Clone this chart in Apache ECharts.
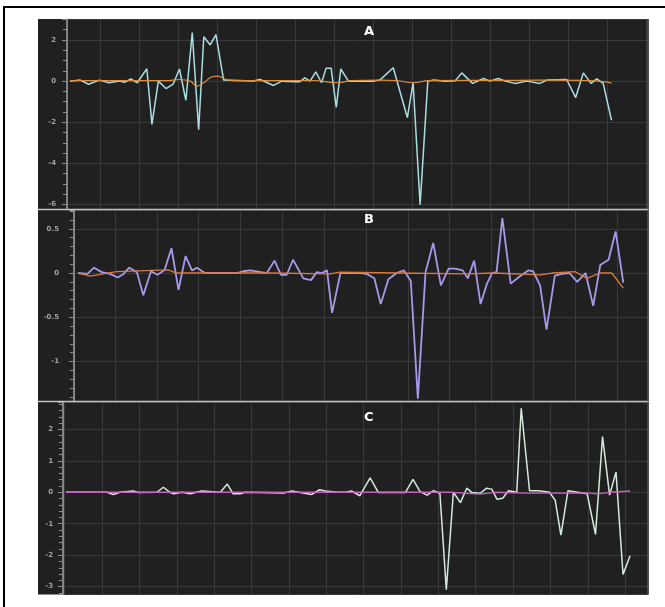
<!DOCTYPE html>
<html>
<head>
<meta charset="utf-8">
<script src="https://cdn.jsdelivr.net/npm/echarts@6/dist/echarts.min.js"></script>
<style>
    html, body { margin: 0; padding: 0; background: #fff; }
    #frame { position: absolute; left: 3px; top: 6px; width: 700px; height: 700px;
             border-top: 2px solid #000; border-left: 2px solid #000; }
    #chart { position: absolute; left: 0; top: 0; width: 665px; height: 607px; }
</style>
</head>
<body>
<div id="frame"></div>
<div id="chart"></div>
<script>
    // panel A: sample position / value
    var aT = [0,1.6,2.9,4.6,6.1,7.7,8.6,9.5,10.5,12.0,12.8,13.8,15.0,16.1,17.1,18.1,19.1,20.1,20.9,21.9,
              22.8,24.0,28.6,29.7,31.8,33.1,35.2,35.9,36.7,37.5,38.4,39.3,40.0,40.8,41.6,42.3,43.5,47.4,48.4,50.5,
              52.7,53.6,54.7,55.9,56.8,58.6,60.2,61.2,62.9,64.6,65.6,66.9,68.0,69.5,71.4,73.4,74.5,77.6,79.0,80.2,
              81.4,82.3,83.3,84.6];
    var aV = [0,0.05,-0.15,0.05,-0.08,0.01,-0.05,0.11,-0.08,0.6,-2.1,0,-0.36,-0.15,0.59,-0.93,2.36,-2.36,2.16,1.76,
              2.26,0.05,0.01,0.08,-0.21,0,-0.03,-0.03,0.16,0,0.45,-0.08,0.62,0.62,-1.28,0.59,0,0,0.05,0.65,
              -1.77,-0.08,-6.01,0,0.05,0,0.02,0.4,-0.11,0.13,0,0.13,0,-0.11,0,-0.11,0.05,0.08,-0.8,0.4,
              -0.11,0.11,-0.11,-1.9];
    var aoT = [0,4.6,10,15,17.1,18.8,19.8,21,22.1,23,24.4,25.5,30,38,41.6,44,48.4,51,53.6,56,62,70,76,80,83.3,84.6];
    var aoV = [0.02,0.03,0.02,0.02,0.08,0,-0.24,-0.05,0.2,0.24,0.08,0.02,0.02,0.03,-0.08,0.02,0.05,0.03,-0.08,0.02,
               0.04,0.04,0.05,0.03,-0.02,-0.1];

    // panel B
    var bT = [0,1.45,2.5,3.7,5.0,6.2,7.1,8.0,9.2,10.2,11.4,12.4,13.5,14.6,15.7,16.8,17.8,18.6,19.8,24.8,
              25.8,26.9,29.5,30.7,31.7,32.6,33.6,35.2,36.4,37.3,38.1,38.9,39.7,41.0,44.1,45.1,46.3,47.3,48.5,49.8,
              50.9,52.0,53.1,54.3,55.5,56.7,57.9,58.9,60.1,60.9,61.9,62.9,63.9,64.7,65.4,66.3,67.6,69.0,70.4,71.1,
              72.2,73.2,74.5,75.6,76.8,78.0,79.3,80.5,81.6,82.9,84.0,85.2];
    var bV = [0,-0.01,0.06,0.01,-0.01,-0.05,-0.01,0.06,0.01,-0.25,0.02,-0.02,0.03,0.28,-0.19,0.19,0.03,0.06,0,0,
              0.02,0.03,0,0.14,-0.02,-0.02,0.15,-0.06,-0.08,0.01,0,0.03,-0.45,0,0,-0.01,-0.06,-0.35,-0.07,0,
              0.03,-0.09,-1.42,0.01,0.34,-0.14,0.05,0.05,0.03,-0.06,0.14,-0.35,-0.12,0,0.01,0.62,-0.12,-0.04,0.03,0.02,
              -0.14,-0.64,-0.03,-0.01,0,-0.1,0,-0.37,0.09,0.15,0.47,-0.11];
    var boT = [0,1.9,6.0,14.1,15.4,30,39.4,40.9,50,60.7,65,72.2,74.2,77.7,79.5,81.6,83.4,85.2];
    var boV = [0,-0.035,0.015,0.035,0,0,-0.01,0.01,0,-0.01,0,-0.02,0,0.015,-0.06,0,0,-0.17];

    // panel C
    var cT = [0,6.4,7.4,8.4,10.5,11.3,14.2,15.2,16.3,16.8,18.1,19.4,21.2,24.1,25.2,26.1,27.2,28.0,34.0,35.3,
              36.6,38.4,39.6,40.5,42.3,43.6,44.6,45.9,47.5,48.8,53.0,54.2,55.3,56.4,57.4,58.4,59.4,60.5,61.6,62.6,
              63.4,64.7,65.7,66.5,67.3,68.2,69.1,70.4,71.1,72.4,73.8,75.5,76.4,77.3,78.4,81.4,82.7,83.8,84.9,85.9,
              87.0,88.1];
    var cV = [0,0,-0.07,0,0.04,-0.01,0,0.16,-0.01,-0.05,0,-0.05,0.04,0,0.26,-0.05,-0.05,0,-0.02,0.04,
              -0.01,-0.07,0.08,0.04,0,0,0.04,-0.11,0.46,-0.01,-0.01,0.41,0.02,-0.09,0.05,-0.03,-3.1,0,-0.33,0.13,
              -0.01,-0.03,0.13,0.1,-0.22,-0.19,0.05,0,2.67,0.05,0.05,0,-0.25,-1.36,0.05,-0.05,-1.34,1.77,-0.09,0.64,
              -2.61,-2.02];
    var cmT = [0,40,60,64.7,67,72,81.4,83,85,88.1];
    var cmV = [0,0,0,-0.06,0,-0.03,-0.02,-0.05,0,0.04];

    var titles = ['A', 'B', 'C'];

    function pairs(t, v) {
        var out = [];
        for (var i = 0; i < t.length; i++) out.push([t[i], v[i]]);
        return out;
    }

    var panels = [
        {grid: {left: 67, right: 17, top: 19, height: 190.5}, xr: [-0.47, 90.3], gr: [0.154, 15.05], gs: 15,
         yr: [-6.24, 3.02], ys: 5, minor: 4, margin: 11, titleTop: 25},
        {grid: {left: 74, right: 17, top: 210, height: 191}, xr: [-0.63, 89.06], gr: [0.02, 13.74], gs: 14,
         yr: [-1.446, 0.712], ys: 5, minor: 5, margin: 15, titleTop: 213},
        {grid: {left: 63, right: 17, top: 402, height: 192.5}, xr: [-0.47, 90.9], gr: [-0.044, 15.61], gs: 15,
         yr: [-3.25, 2.87], ys: 6, minor: 5, margin: 10, titleTop: 411}
    ];

    var gridLine = '#3a3a3a';
    var tickColor = '#8c8c8c';

    var option = {
        animation: false,
        backgroundColor: 'transparent',
        title: [],
        grid: [],
        xAxis: [],
        yAxis: [],
        graphic: {
            elements: [
                {type: 'rect', z: -10, shape: {x: 38, y: 19, width: 610, height: 575.5}, style: {fill: '#202020'}},
                {type: 'line', z: 50, shape: {x1: 38, y1: 209.5, x2: 648, y2: 209.5}, style: {stroke: '#c4c4c4', lineWidth: 1.5}},
                {type: 'line', z: 50, shape: {x1: 38, y1: 401.5, x2: 648, y2: 401.5}, style: {stroke: '#c4c4c4', lineWidth: 1.5}},
                {type: 'line', z: 50, shape: {x1: 648, y1: 19, x2: 648, y2: 594.5}, style: {stroke: '#6a6a6a', lineWidth: 1}}
            ]
        },
        series: []
    };

    panels.forEach(function (p, i) {
        option.grid.push(p.grid);
        option.title.push({
            text: titles[i], left: 364, top: p.titleTop, padding: 0,
            textStyle: {color: '#ffffff', fontSize: 13, fontWeight: 'bold', fontFamily: 'DejaVu Sans'}
        });
        // data axis
        option.xAxis.push({gridIndex: i, type: 'value', min: p.xr[0], max: p.xr[1], show: false});
        // vertical grid lines only
        option.xAxis.push({
            gridIndex: i, type: 'value', min: p.gr[0], max: p.gr[1], splitNumber: p.gs,
            axisLine: {show: false, onZero: false}, axisTick: {show: false}, axisLabel: {show: false},
            splitLine: {show: true, lineStyle: {color: gridLine, width: 1}}
        });
        option.yAxis.push({
            gridIndex: i, type: 'value', min: p.yr[0], max: p.yr[1], splitNumber: p.ys,
            axisLine: {show: true, onZero: false, lineStyle: {color: '#a0a0a0', width: 1.5}},
            axisTick: {show: true, length: 5, lineStyle: {color: tickColor}},
            minorTick: {show: true, splitNumber: p.minor, length: 4, lineStyle: {color: tickColor}},
            axisLabel: {showMinLabel: false, showMaxLabel: false, color: '#a3a3a3', fontSize: 7,
                        fontWeight: 'bold', fontFamily: 'DejaVu Sans', margin: p.margin},
            splitLine: {show: true, lineStyle: {color: gridLine, width: 1}}
        });
    });

    function addLine(idx, t, v, color, width, smooth, z) {
        option.series.push({
            type: 'line', xAxisIndex: idx * 2, yAxisIndex: idx, data: pairs(t, v),
            showSymbol: false, smooth: smooth, z: z,
            lineStyle: {color: color, width: width}
        });
    }

    addLine(0, aT, aV, '#a9dfe3', 1.5, false, 3);
    addLine(0, aoT, aoV, '#d8914a', 1.2, true, 4);
    addLine(1, bT, bV, '#a999ea', 1.8, false, 3);
    addLine(1, boT, boV, '#d77a45', 1.3, false, 4);
    addLine(2, cT, cV, '#d6eadb', 1.5, false, 3);
    addLine(2, cmT, cmV, '#c563c1', 1.3, false, 4);

    var chart = echarts.init(document.getElementById('chart'));
    chart.setOption(option);
</script>
</body>
</html>
